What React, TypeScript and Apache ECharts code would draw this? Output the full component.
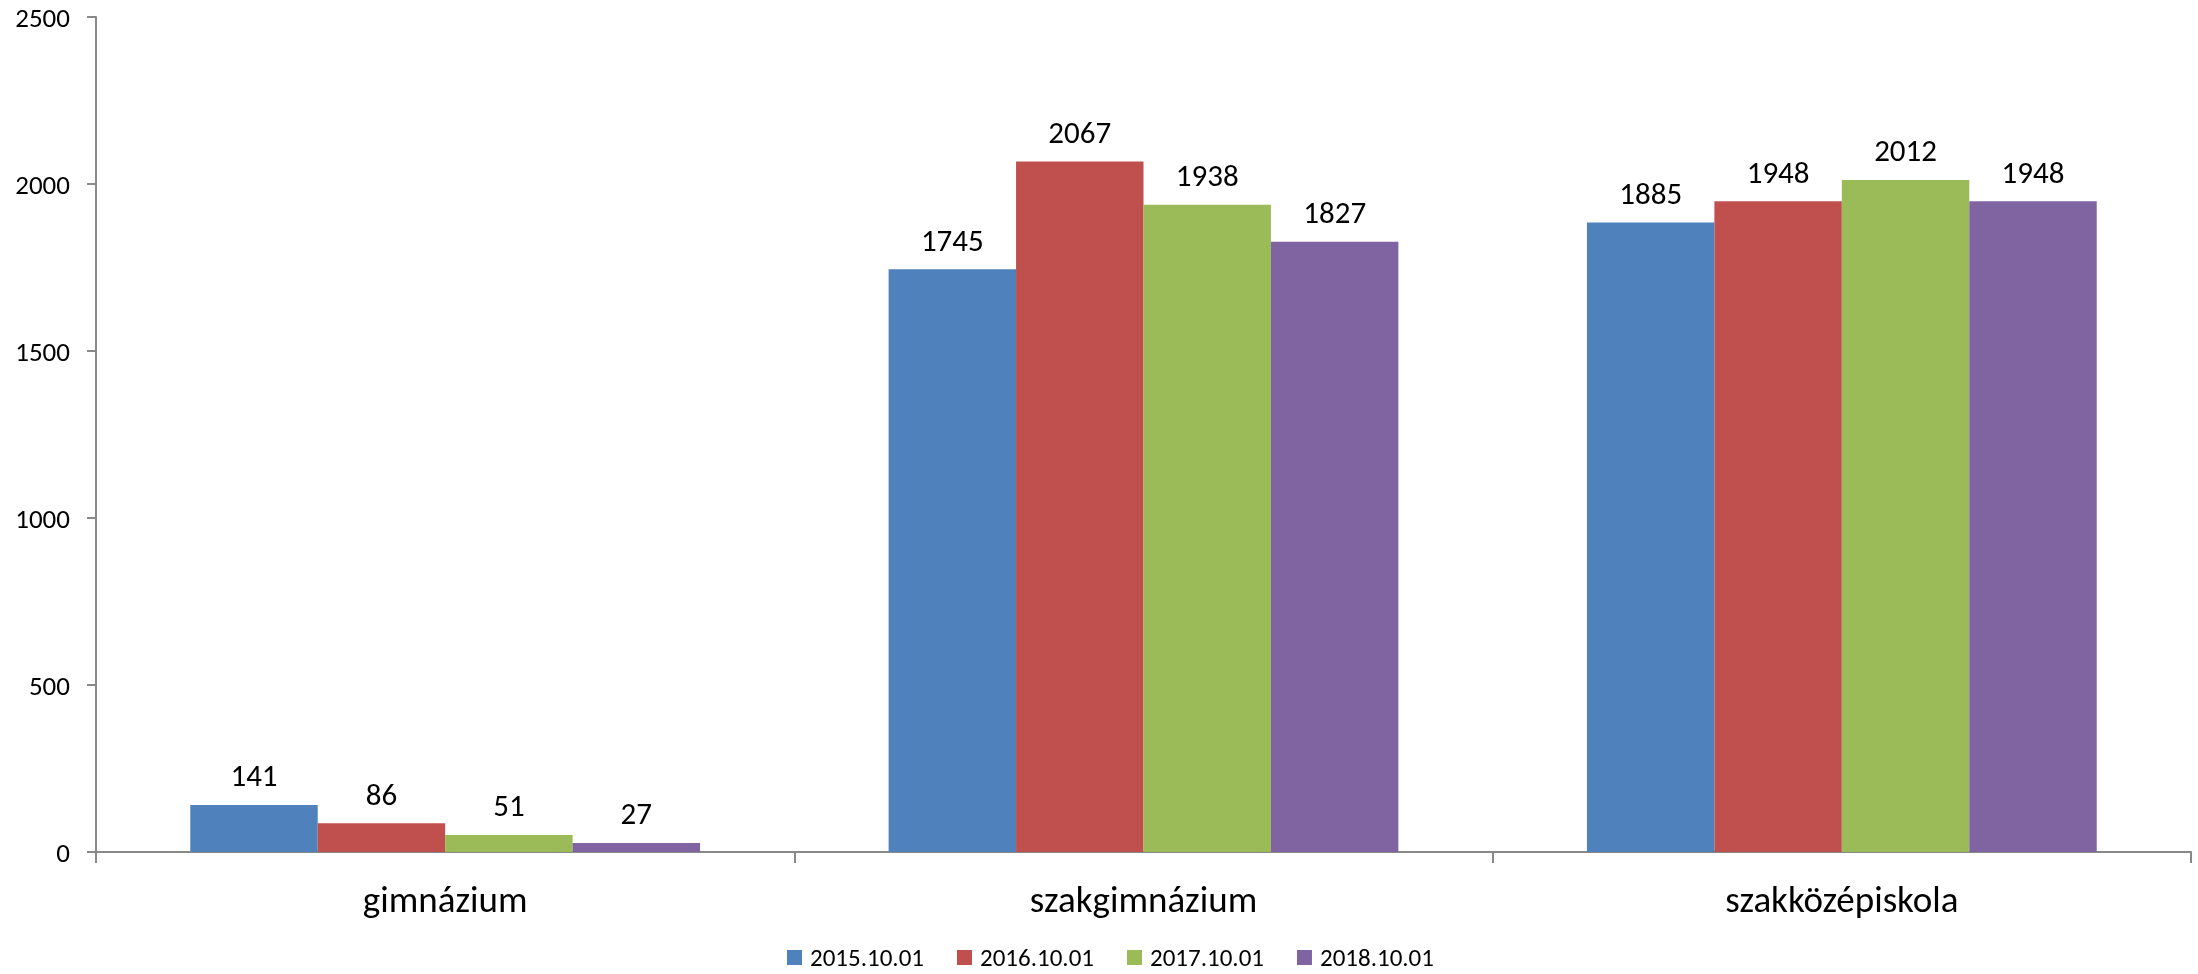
import React, { useEffect, useRef } from "react";
import * as echarts from "echarts";

const categories = ["gimnázium", "szakgimnázium", "szakközépiskola"];
const seriesNames = ["2015.10.01", "2016.10.01", "2017.10.01", "2018.10.01"];
const values2015 = [141, 1745, 1885];
const values2016 = [86, 2067, 1948];
const values2017 = [51, 1938, 2012];
const values2018 = [27, 1827, 1948];
const colors = ["#4F81BD", "#C0504D", "#9BBB59", "#8064A2"];
const yTicks = { min: 0, max: 2500, interval: 500 };

const FONT = "Carlito, Lato, 'Noto Sans', sans-serif";

export default function App() {
  const ref = useRef<HTMLDivElement>(null);
  useEffect(() => {
    if (!ref.current) return;
    const chart = echarts.init(ref.current, undefined, { renderer: "svg" });
    const data = [values2015, values2016, values2017, values2018];
    chart.setOption({
      animation: false,
      textStyle: { fontFamily: FONT, color: "#000" },
      grid: { left: 96, right: 7, top: 17, bottom: 122, containLabel: false },
      legend: {
        left: 782,
        top: 940,
        itemWidth: 15,
        itemHeight: 15,
        itemGap: 33,
        icon: "rect",
        data: seriesNames,
        textStyle: { fontFamily: FONT, fontSize: 25, color: "#000", padding: [0, 0, 0, 3] },
      },
      xAxis: {
        type: "category",
        data: categories,
        boundaryGap: true,
        axisLine: { show: true, lineStyle: { color: "#898989", width: 2 } },
        axisTick: { show: true, inside: false, length: 11, lineStyle: { color: "#898989", width: 2 } },
        axisLabel: { fontFamily: FONT, fontSize: 37, color: "#000", margin: 29 },
        splitLine: { show: false },
      },
      yAxis: {
        type: "value",
        min: yTicks.min,
        max: yTicks.max,
        interval: yTicks.interval,
        axisLine: { show: true, lineStyle: { color: "#898989", width: 2 } },
        axisTick: { show: true, inside: false, length: 9, lineStyle: { color: "#898989", width: 2 } },
        axisLabel: {
          fontFamily: FONT,
          fontSize: 27,
          color: "#000",
          margin: 26,
          formatter: (v: number) => String(v),
        },
        splitLine: { show: false },
      },
      series: seriesNames.map((name, i) => ({
        name,
        type: "bar",
        data: data[i],
        barGap: "0%",
        barCategoryGap: "27%",
        itemStyle: { color: colors[i] },
        label: {
          show: true,
          position: "top",
          distance: 14,
          fontFamily: FONT,
          fontSize: 31,
          color: "#000",
        },
      })),
    });
    return () => chart.dispose();
  }, []);
  return (
    <div
      ref={ref}
      style={{ position: "fixed", left: 0, top: 0, width: 2198, height: 974 }}
    />
  );
}
